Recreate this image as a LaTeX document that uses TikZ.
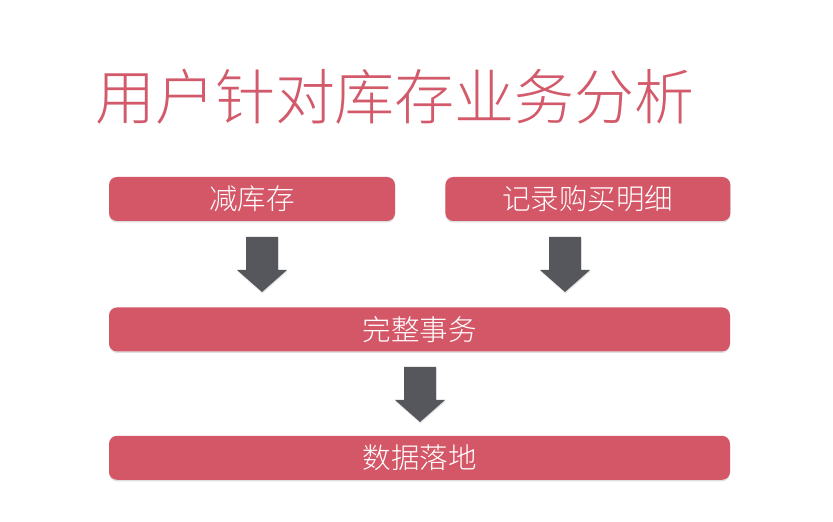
\documentclass[tikz,border=0pt]{standalone}
\usepackage{fontspec}
\newfontfamily\cjk{Noto Sans CJK SC Light}
\usetikzlibrary{positioning,shadows}

\definecolor{boxred}{HTML}{D45767}
\definecolor{titlered}{HTML}{D25A6A}
\definecolor{arrowgray}{HTML}{55575C}

% block arrow pointing down, #1 = top centre of the shaft
\newcommand{\blockarrow}[1]{%
  \fill[downarrow] ([xshift=-16pt]#1) -- ++(32,0) -- ++(0,-33) -- ++(9,0)
    -- ++(-25,-22) -- ++(-25,22) -- ++(9,0) -- cycle;}

\begin{document}
\begin{tikzpicture}[
    x=1pt, y=1pt,
    box/.style={rectangle, rounded corners=8pt, fill=boxred, text=white,
        minimum height=44pt, inner sep=0pt, font=\cjk\fontsize{28.5}{32}\selectfont,
        drop shadow={opacity=0.25, shadow xshift=0pt, shadow yshift=-1.5pt}},
    downarrow/.style={fill=arrowgray,
        drop shadow={opacity=0.2, shadow xshift=0.5pt, shadow yshift=-1.5pt}}
]
\useasboundingbox[fill=white] (0,0) rectangle (833,522);

\node[text=titlered, font=\cjk\fontsize{60}{66}\selectfont] (title) at (395,425) {用户针对库存业务分析};

\node[box, minimum width=286pt] (cut) at (252,323) {减库存};
\node[box, minimum width=285pt, right=50pt of cut] (record) {记录购买明细};
\node[box, minimum width=621pt, anchor=north west] (tx) at ([yshift=-86pt]cut.south west) {完整事务};
\node[box, minimum width=621pt, below=84pt of tx] (save) {数据落地};

\coordinate (a1) at (262,285);
\coordinate (a2) at (565,285);
\coordinate (a3) at (420,155);
\blockarrow{a1}
\blockarrow{a2}
\blockarrow{a3}
\end{tikzpicture}
\end{document}
